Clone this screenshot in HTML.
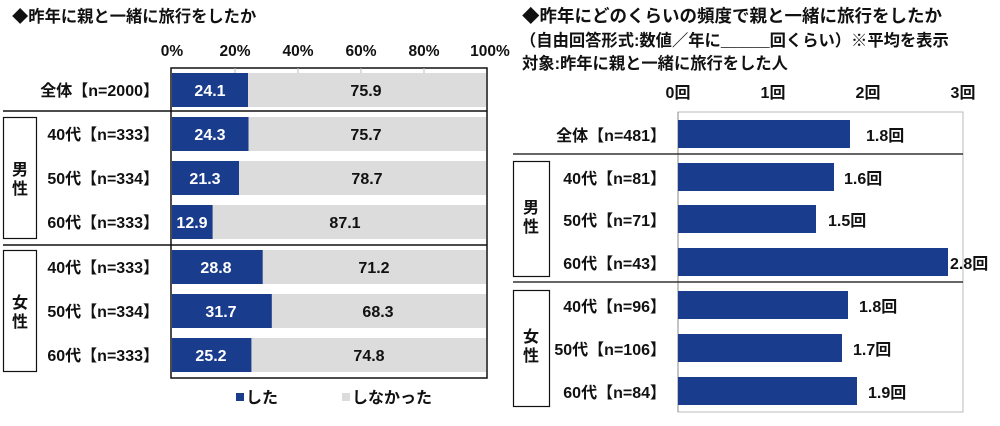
<!DOCTYPE html>
<html><head><meta charset="utf-8"><style>
html,body{margin:0;padding:0;background:#fff;}
svg text{font-family:"Liberation Sans","Noto Sans CJK JP",sans-serif;font-weight:bold;}
</style></head><body>
<svg width="1000" height="421" viewBox="0 0 1000 421" xmlns="http://www.w3.org/2000/svg">
<!-- LEFT -->
<text x="12" y="22" font-size="16.3" fill="#111">◆昨年に親と一緒に旅行をしたか</text>
<g font-size="15.5" fill="#111" text-anchor="middle">
<text x="172" y="56">0%</text><text x="235" y="56">20%</text><text x="298" y="56">40%</text>
<text x="361" y="56">60%</text><text x="424" y="56">80%</text><text x="490" y="56">100%</text>
</g>
<rect x="171" y="68" width="316" height="310" fill="#fff" stroke="#111" stroke-width="1.5"/>
<g stroke="#bbb" stroke-width="1"><line x1="235" y1="68" x2="235" y2="73"/><line x1="298" y1="68" x2="298" y2="73"/><line x1="361" y1="68" x2="361" y2="73"/><line x1="424" y1="68" x2="424" y2="73"/></g>
<g>
<rect x="172" y="73" width="314" height="34" fill="#dcdcdc"/><rect x="172" y="73" width="76" height="34" fill="#1a3c8c"/>
<rect x="172" y="117" width="314" height="34" fill="#dcdcdc"/><rect x="172" y="117" width="76.5" height="34" fill="#1a3c8c"/>
<rect x="172" y="161" width="314" height="34" fill="#dcdcdc"/><rect x="172" y="161" width="67" height="34" fill="#1a3c8c"/>
<rect x="172" y="205" width="314" height="34" fill="#dcdcdc"/><rect x="172" y="205" width="40.6" height="34" fill="#1a3c8c"/>
<rect x="172" y="250" width="314" height="34" fill="#dcdcdc"/><rect x="172" y="250" width="90.7" height="34" fill="#1a3c8c"/>
<rect x="172" y="294" width="314" height="34" fill="#dcdcdc"/><rect x="172" y="294" width="99.8" height="34" fill="#1a3c8c"/>
<rect x="172" y="338" width="314" height="34" fill="#dcdcdc"/><rect x="172" y="338" width="79.4" height="34" fill="#1a3c8c"/>
</g>
<g font-size="16" text-anchor="middle">
<text x="210" y="96" fill="#fff">24.1</text><text x="366" y="96" fill="#111">75.9</text>
<text x="210" y="140" fill="#fff">24.3</text><text x="366" y="140" fill="#111">75.7</text>
<text x="205" y="184" fill="#fff">21.3</text><text x="367" y="184" fill="#111">78.7</text>
<text x="192" y="228" fill="#fff">12.9</text><text x="345" y="228" fill="#111">87.1</text>
<text x="216" y="273" fill="#fff">28.8</text><text x="374" y="273" fill="#111">71.2</text>
<text x="221" y="317" fill="#fff">31.7</text><text x="378" y="317" fill="#111">68.3</text>
<text x="211" y="361" fill="#fff">25.2</text><text x="369" y="361" fill="#111">74.8</text>
</g>
<line x1="3" y1="111" x2="487" y2="111" stroke="#111" stroke-width="1.5"/>
<line x1="3" y1="245" x2="487" y2="245" stroke="#111" stroke-width="1.5"/>
<rect x="3.5" y="117.5" width="33" height="121" fill="none" stroke="#111" stroke-width="1.2"/>
<rect x="3.5" y="250.5" width="33" height="121" fill="none" stroke="#111" stroke-width="1.2"/>
<g font-size="16" fill="#111" text-anchor="middle"><text x="20" y="175">男</text><text x="20" y="194">性</text>
<text x="20" y="308">女</text><text x="20" y="327">性</text></g>
<g font-size="16" fill="#111" text-anchor="end">
<text x="159" y="96">全体【n=2000】</text><text x="159" y="140">40代【n=333】</text><text x="159" y="184">50代【n=334】</text><text x="159" y="228">60代【n=333】</text>
<text x="159" y="273">40代【n=333】</text><text x="159" y="317">50代【n=334】</text><text x="159" y="361">60代【n=333】</text>
</g>
<rect x="236" y="393" width="8" height="8" fill="#1a3c8c"/><text x="246" y="403" font-size="16" fill="#111">した</text>
<rect x="342" y="393" width="8" height="8" fill="#dcdcdc"/><text x="352" y="403" font-size="16" fill="#111">しなかった</text>

<!-- RIGHT -->
<g fill="#111">
<text x="522" y="22" font-size="17.5">◆昨年にどのくらいの頻度で親と一緒に旅行をしたか</text>
<text x="520" y="46" font-size="16.3">（自由回答形式:数値／年に＿＿＿回くらい）※平均を表示</text>
<text x="522" y="69" font-size="16.3">対象:昨年に親と一緒に旅行をした人</text>
</g>
<g font-size="16" fill="#111" text-anchor="middle">
<text x="678" y="98">0回</text><text x="773" y="98">1回</text><text x="868" y="98">2回</text><text x="963" y="98">3回</text>
</g>
<rect x="678" y="112" width="285" height="300" fill="#fff" stroke="#bbb" stroke-width="1"/>
<line x1="678" y1="112" x2="678" y2="412" stroke="#888" stroke-width="1"/>
<g fill="#1a3c8c">
<rect x="678" y="120" width="172" height="28"/>
<rect x="678" y="163" width="156" height="28"/>
<rect x="678" y="205" width="138" height="28"/>
<rect x="678" y="248" width="270" height="28"/>
<rect x="678" y="291" width="170" height="28"/>
<rect x="678" y="334" width="164" height="28"/>
<rect x="678" y="377" width="179" height="28"/>
</g>
<g font-size="16" fill="#111">
<text x="866" y="141">1.8回</text><text x="844" y="184">1.6回</text><text x="828" y="226">1.5回</text>
<text x="950" y="269">2.8回</text><text x="859" y="312">1.8回</text><text x="853" y="355">1.7回</text><text x="868" y="398">1.9回</text>
</g>
<line x1="513" y1="154" x2="963" y2="154" stroke="#333" stroke-width="1.5"/>
<line x1="513" y1="282" x2="963" y2="282" stroke="#333" stroke-width="1.5"/>
<rect x="513.5" y="161.5" width="36" height="115" fill="none" stroke="#111" stroke-width="1.2"/>
<rect x="513.5" y="290.5" width="36" height="116" fill="none" stroke="#111" stroke-width="1.2"/>
<g font-size="16" fill="#111" text-anchor="middle"><text x="531" y="213">男</text><text x="531" y="232">性</text>
<text x="531" y="342">女</text><text x="531" y="361">性</text></g>
<g font-size="16" fill="#111" text-anchor="end">
<text x="666" y="141">全体【n=481】</text><text x="666" y="184">40代【n=81】</text><text x="666" y="226">50代【n=71】</text><text x="666" y="269">60代【n=43】</text>
<text x="666" y="312">40代【n=96】</text><text x="666" y="355">50代【n=106】</text><text x="666" y="398">60代【n=84】</text>
</g>
</svg>
</body></html>
